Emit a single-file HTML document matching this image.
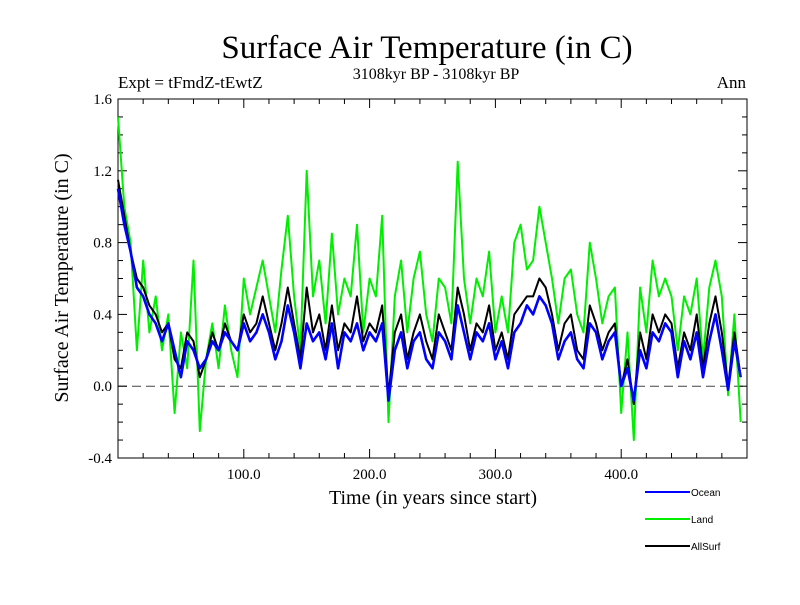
<!DOCTYPE html>
<html><head><meta charset="utf-8"><style>
body{margin:0;background:#fff;}
svg text{font-family:"Liberation Serif",serif;}
</style></head><body>
<svg id="chart" width="800" height="600" xmlns="http://www.w3.org/2000/svg">
<text x="427" y="58" font-size="33" text-anchor="middle">Surface Air Temperature (in C)</text>
<text x="436" y="79" font-size="16" text-anchor="middle">3108kyr BP - 3108kyr BP</text>
<text x="118" y="88" font-size="17">Expt = tFmdZ-tEwtZ</text>
<text x="746" y="88" font-size="17" text-anchor="end">Ann</text>
<text transform="translate(68,278) rotate(-90)" font-size="20" text-anchor="middle">Surface Air Temperature (in C)</text>
<text x="433" y="504" font-size="20" text-anchor="middle">Time (in years since start)</text>
<g id="axes"></g>
<g id="plot"></g>
<g id="legend"></g>
</svg>
<script>
const years = [0,5,10,15,20,25,30,35,40,45,50,55,60,65,70,75,80,85,90,95,100,105,110,115,120,125,130,135,140,145,150,155,160,165,170,175,180,185,190,195,200,205,210,215,220,225,230,235,240,245,250,255,260,265,270,275,280,285,290,295,300,305,310,315,320,325,330,335,340,345,350,355,360,365,370,375,380,385,390,395,400,405,410,415,420,425,430,435,440,445,450,455,460,465,470,475,480,485,490,495];
const ocean = [1.1,0.9,0.75,0.55,0.5,0.4,0.35,0.25,0.35,0.2,0.05,0.25,0.2,0.1,0.15,0.25,0.2,0.3,0.25,0.2,0.35,0.25,0.3,0.4,0.3,0.15,0.25,0.45,0.3,0.1,0.35,0.25,0.3,0.15,0.35,0.1,0.3,0.25,0.35,0.2,0.3,0.25,0.35,-0.08,0.2,0.3,0.1,0.25,0.3,0.15,0.1,0.3,0.25,0.15,0.45,0.3,0.15,0.3,0.25,0.35,0.15,0.25,0.1,0.3,0.35,0.45,0.4,0.5,0.45,0.35,0.15,0.25,0.3,0.15,0.1,0.35,0.3,0.15,0.25,0.3,0.0,0.1,-0.08,0.2,0.1,0.3,0.25,0.35,0.3,0.05,0.25,0.15,0.3,0.05,0.25,0.4,0.2,-0.02,0.25,0.05];
const land = [1.5,1.0,0.8,0.2,0.7,0.3,0.5,0.2,0.4,-0.15,0.3,0.1,0.7,-0.25,0.15,0.35,0.1,0.45,0.2,0.05,0.6,0.4,0.55,0.7,0.5,0.3,0.65,0.95,0.5,0.2,1.2,0.5,0.7,0.35,0.85,0.4,0.6,0.5,0.9,0.3,0.6,0.5,0.95,-0.2,0.5,0.7,0.3,0.6,0.75,0.4,0.25,0.6,0.55,0.35,1.25,0.6,0.35,0.6,0.5,0.75,0.3,0.5,0.3,0.8,0.9,0.65,0.7,1.0,0.8,0.6,0.35,0.6,0.65,0.4,0.3,0.8,0.6,0.35,0.5,0.55,-0.15,0.3,-0.3,0.55,0.3,0.7,0.5,0.6,0.5,0.2,0.5,0.4,0.6,0.15,0.55,0.7,0.5,-0.05,0.4,-0.2];
const allsurf = [1.15,0.95,0.75,0.6,0.55,0.45,0.4,0.3,0.35,0.15,0.1,0.3,0.25,0.05,0.15,0.3,0.2,0.35,0.25,0.2,0.4,0.3,0.35,0.5,0.35,0.2,0.35,0.55,0.35,0.15,0.55,0.3,0.4,0.2,0.45,0.2,0.35,0.3,0.5,0.25,0.35,0.3,0.45,-0.05,0.3,0.4,0.15,0.3,0.4,0.25,0.15,0.4,0.3,0.2,0.55,0.4,0.2,0.35,0.3,0.45,0.2,0.3,0.15,0.4,0.45,0.5,0.5,0.6,0.55,0.4,0.2,0.35,0.4,0.2,0.15,0.45,0.35,0.2,0.3,0.35,0.0,0.15,-0.1,0.3,0.15,0.4,0.3,0.4,0.35,0.1,0.3,0.2,0.4,0.1,0.35,0.5,0.3,0.0,0.3,0.05];
const yTicks = [-0.4,0.0,0.4,0.8,1.2,1.6];
const yTickLabels = ["-0.4","0.0","0.4","0.8","1.2","1.6"];
const xTicks = [100,200,300,400];
const xTickLabels = ["100.0","200.0","300.0","400.0"];

const L=118,R=747,T=99,B=458, X0=0,X1=500, Y0=-0.4,Y1=1.6;
const sx=v=>L+(v-X0)/(X1-X0)*(R-L);
const sy=v=>B-(v-Y0)/(Y1-Y0)*(B-T);
const NS="http://www.w3.org/2000/svg";
function mk(tag,attrs,parent){const e=document.createElementNS(NS,tag);for(const k in attrs)e.setAttribute(k,attrs[k]);parent.appendChild(e);return e;}
const axes=document.getElementById('axes'),plot=document.getElementById('plot'),leg=document.getElementById('legend');

const zero=mk('line',{x1:L,x2:R,y1:sy(0),y2:sy(0),stroke:'#444','stroke-width':1,'stroke-dasharray':'9,5'},axes);



function series(vals,color,w,name){
  const d=years.map((y,i)=>(i?'L':'M')+sx(y).toFixed(1)+','+sy(vals[i]).toFixed(1)).join('');
  const p=mk('path',{d:d,fill:'none',stroke:color,'stroke-width':w,'stroke-linejoin':'round'},plot);
  
  
}
series(land,'#00ee00',2,'land-line');
series(allsurf,'#000',2,'allsurf-line');
series(ocean,'#0000ff',2.6,'ocean-line');

const frame=mk('rect',{x:L,y:T,width:R-L,height:B-T,fill:'none',stroke:'#000','stroke-width':1},axes);



for(let v=20;v<X1;v+=20){
  const maj=(v%100===0), len=maj?9:5;
  mk('line',{x1:sx(v),x2:sx(v),y1:B,y2:B-len,stroke:'#000'},axes);
  mk('line',{x1:sx(v),x2:sx(v),y1:T,y2:T+len,stroke:'#000'},axes);
}
for(let k=-3;k<16;k++){
  const v=k/10, maj=(k%4===0), len=maj?9:5;
  mk('line',{x1:L,x2:L+len,y1:sy(v),y2:sy(v),stroke:'#000'},axes);
  mk('line',{x1:R,x2:R-len,y1:sy(v),y2:sy(v),stroke:'#000'},axes);
}
xTicks.forEach((v,i)=>{
  const t=mk('text',{x:sx(v),y:B+21,'font-size':15,'text-anchor':'middle'},axes);
  t.textContent=xTickLabels[i];
  
  
});
yTicks.forEach((v,i)=>{
  const t=mk('text',{x:L-6,y:sy(v)+5,'font-size':15,'text-anchor':'end'},axes);
  t.textContent=yTickLabels[i];
  
  
});
[['Ocean','#0000ff',492],['Land','#00ee00',519],['AllSurf','#000',546]].forEach(e=>{
  const g=mk('g',{},leg);
  
  
  mk('line',{x1:645,x2:690,y1:e[2],y2:e[2],stroke:e[1],'stroke-width':2},g);
  const t=mk('text',{x:691,y:e[2]+4,'font-size':10,style:'font-family:"Liberation Sans",sans-serif'},g);
  t.textContent=e[0];
});
</script>
</body></html>
